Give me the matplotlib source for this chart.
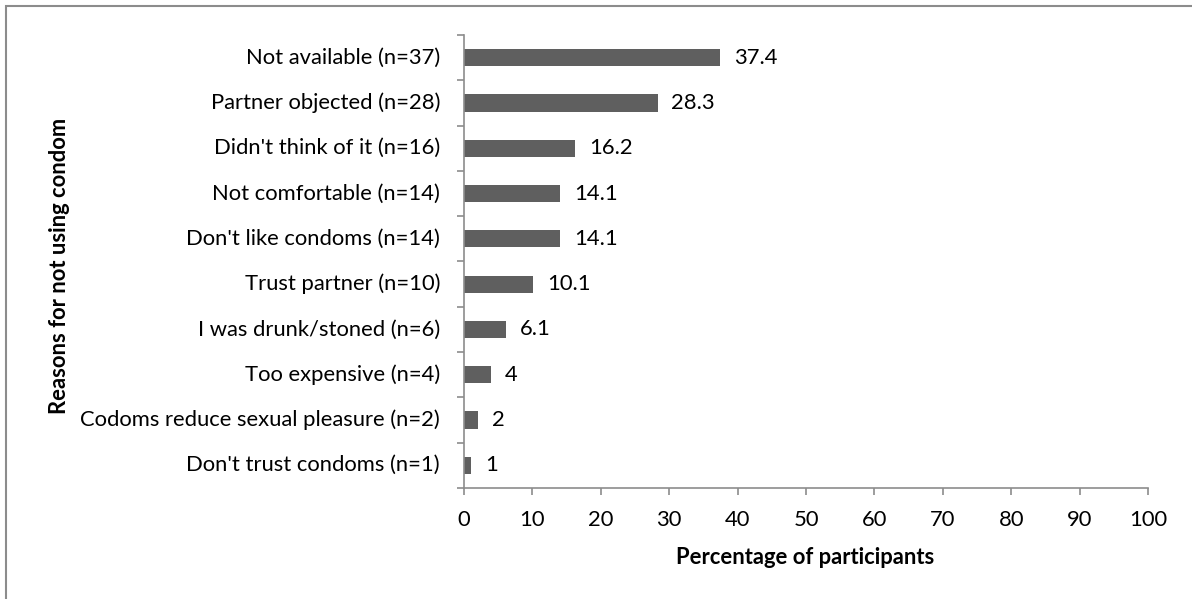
import matplotlib.pyplot as plt
from matplotlib.patches import Rectangle

reasons = ["Not available (n=37)", "Partner objected (n=28)", "Didn't think of it (n=16)",
           "Not comfortable (n=14)", "Don't like condoms (n=14)", "Trust partner (n=10)",
           "I was drunk/stoned (n=6)", "Too expensive (n=4)",
           "Codoms reduce sexual pleasure (n=2)", "Don't trust condoms (n=1)"]
percent = [37.4, 28.3, 16.2, 14.1, 14.1, 10.1, 6.1, 4, 2, 1]
labels = ["37.4", "28.3", "16.2", "14.1", "14.1", "10.1", "6.1", "4", "2", "1"]

plt.rcParams['font.family'] = ['Lato', 'DejaVu Sans']
FS = 15.8
W, H = 1192, 599
fig = plt.figure(figsize=(W / 100, H / 100), dpi=100)
ax = fig.add_axes([464 / W, 1 - 488 / H, (1148 - 464) / W, (488 - 35) / H])

# outer chart border (only left/top visible in the reference)
fig.patches.append(Rectangle((6 / W, -0.1), 1.2, (1 - 6 / H) + 0.1, transform=fig.transFigure,
                             fill=False, edgecolor='#8c8c8c', linewidth=1.5))

n = len(reasons)
ypos = list(range(n))[::-1]
ax.barh(ypos, percent, height=0.38, color='#5f5f5f')
for y, v, s in zip(ypos, percent, labels):
    ax.annotate(s, (v, y), xytext=(10, 0), textcoords='offset points',
                va='center', ha='left', fontsize=FS, color='black')

ax.set_xlim(0, 100)
ax.set_ylim(-0.5, n - 0.5)
ax.set_xticks(range(0, 101, 10))
ax.tick_params(axis='x', length=5, width=1.2, color='#8c8c8c', labelsize=FS, pad=11)
ax.set_yticks([y + 0.5 for y in range(-1, n)])
ax.set_yticklabels([])
ax.tick_params(axis='y', length=5, width=1.2, color='#8c8c8c')
for y, r in zip(ypos, reasons):
    ax.text(-0.035, y, r, transform=ax.get_yaxis_transform(), ha='right', va='center',
            fontsize=FS)

for side in ['top', 'right']:
    ax.spines[side].set_visible(False)
for side in ['left', 'bottom']:
    ax.spines[side].set_color('#8c8c8c')
    ax.spines[side].set_linewidth(1.2)

fig.text(805 / W, 1 - 557 / H, "Percentage of participants", ha='center', va='center',
         fontsize=FS, fontweight='bold')
fig.text(60 / W, 1 - 266 / H, "Reasons for not using condom", ha='center', va='center',
         rotation=90, fontsize=FS, fontweight='bold')

fig.savefig("out.png", dpi=100)
